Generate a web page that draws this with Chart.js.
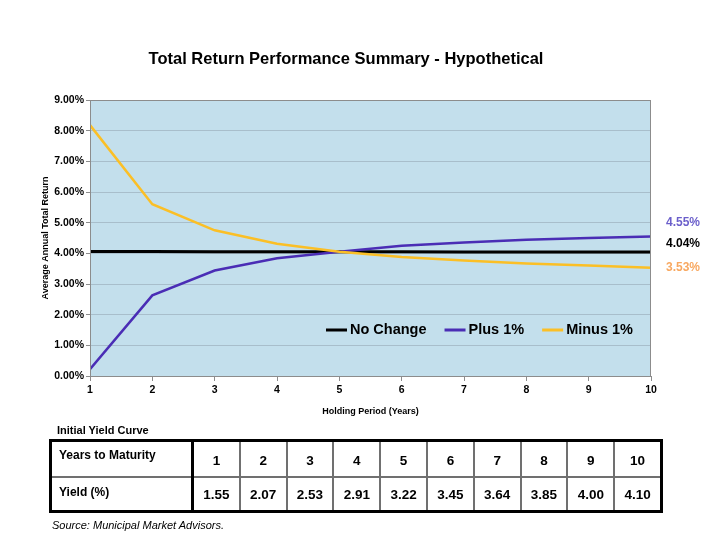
<!DOCTYPE html>
<html>
<head>
<meta charset="utf-8">
<script src="https://cdn.jsdelivr.net/npm/chart.js@4/dist/chart.umd.min.js"></script>
<style>
  html, body { margin: 0; padding: 0; background: #fff; }
  #wrap { position: relative; width: 720px; height: 540px; font-family: "Liberation Sans", Arial, sans-serif; }
  #c { position: absolute; left: 0; top: 0; }
  #tblTitle { position: absolute; left: 57px; top: 424px; font-size: 11px; font-weight: bold; color: #000; }
  #yc { position: absolute; left: 49px; top: 439px; border-collapse: collapse; border: 3px solid #000; table-layout: fixed; }
  #yc td { border: 2px solid #707070; font-weight: bold; color: #000; padding: 0; }
  #yc td.lab { width: 132px; font-size: 12px; text-align: left; padding-left: 7px; vertical-align: top; border-right: 3px solid #000; }
  #yc td.num { width: 44.8px; font-size: 13.5px; text-align: center; vertical-align: middle; }
  #yc tr.r1 td { height: 34px; }
  #yc tr.r1 td.lab { padding-top: 6px; height: 28px; }
  #yc tr.r2 td { height: 32px; }
  #yc tr.r2 td.lab { padding-top: 7px; height: 25px; }
  #yc tr.r1 td.num { padding-top: 3px; height: 31px; }
  #src { position: absolute; left: 52px; top: 519px; font-size: 11px; font-style: italic; color: #000; }
</style>
</head>
<body>
<div id="wrap">
  <canvas id="c" width="720" height="540" style="width:720px;height:540px"></canvas>
  <div id="tblTitle"></div>
  <table id="yc"><tbody></tbody></table>
  <div id="src"></div>
</div>
<script>
// ---- data ----
const chartTitle = "Total Return Performance Summary - Hypothetical";
const holdingYears = [1, 2, 3, 4, 5, 6, 7, 8, 9, 10];
const noChange = [4.06, 4.06, 4.05, 4.05, 4.05, 4.05, 4.04, 4.04, 4.04, 4.04];
const plus1 = [0.22, 2.63, 3.44, 3.84, 4.05, 4.25, 4.35, 4.44, 4.50, 4.55];
const minus1 = [8.18, 5.60, 4.75, 4.31, 4.05, 3.88, 3.77, 3.67, 3.60, 3.53];
const seriesNames = ["No Change", "Plus 1%", "Minus 1%"];
const yTicks = [0, 1, 2, 3, 4, 5, 6, 7, 8, 9];
const tableTitle = "Initial Yield Curve";
const maturityLabel = "Years to Maturity";
const yieldLabel = "Yield (%)";
const maturities = ["1", "2", "3", "4", "5", "6", "7", "8", "9", "10"];
const yields = ["1.55", "2.07", "2.53", "2.91", "3.22", "3.45", "3.64", "3.85", "4.00", "4.10"];
const sourceText = "Source: Municipal Market Advisors.";

// ---- table ----
document.getElementById('tblTitle').textContent = tableTitle;
document.getElementById('src').textContent = sourceText;
const tb = document.querySelector('#yc tbody');
function addRow(cls, label, vals) {
  const tr = document.createElement('tr'); tr.className = cls;
  const th = document.createElement('td'); th.className = 'lab'; th.textContent = label; tr.appendChild(th);
  vals.forEach(v => { const td = document.createElement('td'); td.className = 'num'; td.textContent = v; tr.appendChild(td); });
  tb.appendChild(tr);
}
addRow('r1', maturityLabel, maturities);
addRow('r2', yieldLabel, yields);

// ---- chart ----
const FONT = "'Liberation Sans', Arial, sans-serif";
const seriesValues = [noChange, plus1, minus1];
const colors = ['#000000', '#4A2DB5', '#FBBF26'];
const endLabelColors = ['#000000', '#6B5FCB', '#F8A860'];
const endLabelOffsets = [-8, -14, 0];

const bgPlugin = {
  id: 'plotBg',
  beforeDraw(chart) {
    const { ctx, chartArea: a } = chart;
    ctx.save();
    ctx.fillStyle = '#C3DFEC';
    ctx.fillRect(a.left, a.top, a.right - a.left, a.bottom - a.top);
    ctx.restore();
  },
  afterDraw(chart) {
    const { ctx, chartArea: a } = chart;
    ctx.save();
    ctx.strokeStyle = '#8C8C8C';
    ctx.lineWidth = 1;
    ctx.strokeRect(a.left + 0.5, a.top + 0.5, a.right - a.left - 1, a.bottom - a.top);
    // title
    ctx.fillStyle = '#000';
    ctx.font = 'bold 16.5px ' + FONT;
    ctx.textAlign = 'center';
    ctx.textBaseline = 'middle';
    ctx.fillText(chartTitle, 346, 59);
    // end labels
    ctx.font = 'bold 12px ' + FONT;
    ctx.textAlign = 'left';
    const ys = chart.scales.y;
    seriesValues.forEach((vals, i) => {
      const v = vals[vals.length - 1];
      const y = ys.getPixelForValue(v) + endLabelOffsets[i];
      ctx.fillStyle = endLabelColors[i];
      ctx.fillText(v.toFixed(2) + '%', a.right + 15, y);
    });
    // legend
    ctx.font = 'bold 14.5px ' + FONT;
    ctx.textBaseline = 'middle';
    const ly = ys.getPixelForValue(1.5);
    let lx = a.left + 236;
    seriesNames.forEach((name, i) => {
      ctx.strokeStyle = colors[i];
      ctx.lineWidth = 3;
      ctx.beginPath(); ctx.moveTo(lx, ly); ctx.lineTo(lx + 21, ly); ctx.stroke();
      ctx.fillStyle = '#000';
      ctx.fillText(name, lx + 24, ly);
      lx += 24 + ctx.measureText(name).width + 18;
    });
    ctx.restore();
  }
};

new Chart(document.getElementById('c'), {
  type: 'line',
  data: {
    datasets: seriesNames.map((name, i) => ({
      label: name,
      data: holdingYears.map((x, j) => ({ x, y: seriesValues[i][j] })),
      borderColor: colors[i],
      borderWidth: i === 0 ? 3 : 2.5,
      order: 2 - i,
      pointRadius: 0, tension: 0, fill: false
    }))
  },
  options: {
    responsive: false,
    animation: false,
    layout: { padding: { left: 36, top: 100, right: 69, bottom: 119 } },
    plugins: { legend: { display: false }, title: { display: false }, tooltip: { enabled: false } },
    scales: {
      x: {
        type: 'linear', min: 1, max: 10,
        afterFit(s) { s.height = 45; },
        afterBuildTicks(s) { s.ticks = holdingYears.map(v => ({ value: v })); },
        grid: { display: true, drawOnChartArea: false, drawTicks: true, tickLength: 5, color: '#8C8C8C' },
        border: { display: true, color: '#8C8C8C' },
        ticks: { color: '#000', font: { family: FONT, size: 10.5, weight: 'bold' }, padding: 3, maxRotation: 0 },
        title: { display: true, text: 'Holding Period (Years)', color: '#000', font: { family: FONT, size: 9, weight: 'bold' }, padding: { top: 6 } }
      },
      y: {
        min: 0, max: 9,
        afterFit(s) { s.width = 54; },
        afterBuildTicks(s) { s.ticks = yTicks.map(v => ({ value: v })); },
        grid: { color: '#A8BECB', lineWidth: 1, drawTicks: true, tickLength: 4, tickColor: '#8C8C8C' },
        border: { display: true, color: '#8C8C8C' },
        ticks: { color: '#000', font: { family: FONT, size: 10.5, weight: 'bold' }, padding: 2, callback: v => Number(v).toFixed(2) + '%' },
        title: { display: true, text: 'Average Annual Total Return', color: '#000', font: { family: FONT, size: 9, weight: 'bold' }, padding: { bottom: 4 } }
      }
    }
  },
  plugins: [bgPlugin]
});
</script>
</body>
</html>
